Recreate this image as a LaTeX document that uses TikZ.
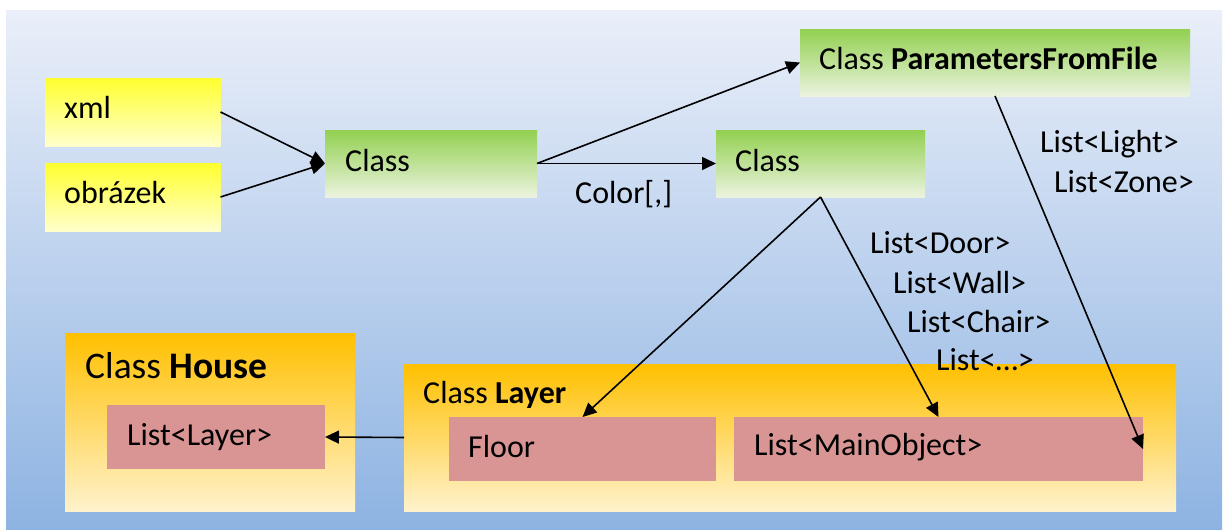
\documentclass[tikz,border=0pt]{standalone}
\usepackage{fontspec}
\setmainfont{Carlito}
\usetikzlibrary{arrows.meta}

\definecolor{bgtop}{HTML}{EAEFF9}
\definecolor{bgbot}{HTML}{8DB3E2}
\definecolor{yeltop}{HTML}{FFFF2E}
\definecolor{yelmid}{HTML}{FFFF99}
\definecolor{yelbot}{HTML}{FFFFCC}
\definecolor{grntop}{HTML}{92D050}
\definecolor{grnmid}{HTML}{CBE6A6}
\definecolor{grnbot}{HTML}{EBF3DF}
\definecolor{orgtop}{HTML}{FFC000}
\definecolor{orgmid}{HTML}{FED98C}
\definecolor{orgbot}{HTML}{FFF2CC}
\definecolor{pink}{HTML}{D99594}

\tikzset{
  box/.style={rectangle, inner sep=0pt, outer sep=0pt, anchor=north west},
  ybox/.style={box, top color=yeltop, middle color=yelmid, bottom color=yelbot},
  gbox/.style={box, top color=grntop, middle color=grnmid, bottom color=grnbot},
  obox/.style={box, top color=orgtop, middle color=orgmid, bottom color=orgbot},
  pbox/.style={box, fill=pink},
  txt/.style={inner sep=0pt, anchor=base west, font=\fontsize{32}{38}\selectfont},
  bigtxt/.style={inner sep=0pt, anchor=base west, font=\fontsize{37.5}{44}\selectfont},
  conn/.style={line width=1.6pt, -{Triangle[length=14pt,width=13pt]}},
}

\begin{document}
\begin{tikzpicture}[x=1pt, y=-1pt]
\useasboundingbox (0,0) rectangle (1226,530);
% backdrop
\shade[top color=bgtop, bottom color=bgbot] (6,10) rectangle (1222,530);

% inputs
\node[ybox, minimum width=175.5pt, minimum height=68pt] (xml) at (45,78) {};
\node[txt] (xmlt) at (64,118) {xml};
\node[ybox, minimum width=175.5pt, minimum height=68pt] (img) at (45,163) {};
\node[txt] (imgt) at (64,203) {obrázek};

% classes
\node[gbox, minimum width=212pt, minimum height=67pt] (cls1) at (325,130) {};
\node[txt] (cls1t) at (345,171) {Class};
\node[gbox, minimum width=209pt, minimum height=67pt] (cls2) at (716,130) {};
\node[txt] (cls2t) at (735,171) {Class};
\node[gbox, minimum width=390pt, minimum height=67pt] (pff) at (800,29) {};
\node[txt] (pfft) at (819,69) {Class \textbf{ParametersFromFile}};

% House
\node[obox, minimum width=290pt, minimum height=178pt] (house) at (65,333) {};
\node[bigtxt] (houset) at (85,378) {Class \textbf{House}};
\node[pbox, minimum width=218pt, minimum height=64pt] (llayer) at (107,405) {};
\node[txt] (llayert) at (127,445) {List<Layer>};

% Layer
\node[obox, minimum width=772pt, minimum height=147pt] (layer) at (404,364) {};
\node[txt] (layert) at (423,403) {Class \textbf{Layer}};
\node[pbox, minimum width=267pt, minimum height=64pt] (floor) at (449,417) {};
\node[txt] (floort) at (468,457) {Floor};
\node[pbox, minimum width=409pt, minimum height=64pt] (mobj) at (734,417) {};
\node[txt] (mobjt) at (754,455) {List<MainObject>};

% labels
\node[txt] (color) at (575,203) {Color[,]};
\node[txt] (light) at (1040,152) {List<Light>};
\node[txt] (zone) at (1054,192) {List<Zone>};
\node[txt] (door) at (870,253) {List<Door>};
\node[txt] (wall) at (893,293) {List<Wall>};
\node[txt] (chair) at (907,332) {List<Chair>};
\node[txt] (dots) at (936,370) {List<…>};

% connectors
\draw[conn] (xml.east) -- (cls1.west);
\draw[conn] (img.east) -- (cls1.west);
\draw[conn] (cls1.east) -- (pff.west);
\draw[conn] (cls1.east) -- (cls2.west);
\draw[conn] (cls2.south) -- (floor.north);
\draw[conn] (cls2.south) -- (mobj.north);
\draw[conn] (pff.south) -- (mobj.east);
\draw[conn] (layer.west) -- (llayer.east);
\end{tikzpicture}
\end{document}
